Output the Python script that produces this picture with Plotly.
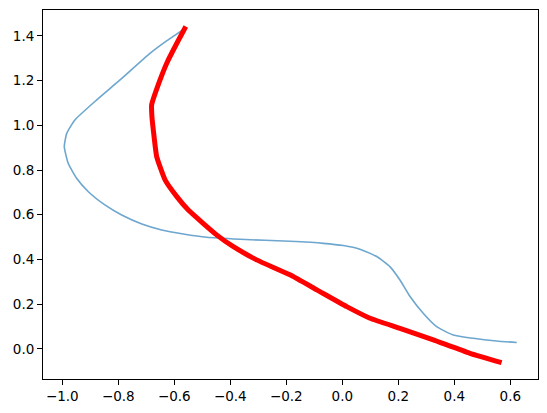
import plotly.graph_objects as go

# Blue trajectory
blue_x = [-0.562, -0.625, -0.687, -0.794, -0.877, -0.955, -0.984, -0.993, -0.979, -0.949,
          -0.907, -0.848, -0.788, -0.716, -0.645, -0.568, -0.484, -0.365, -0.187, -0.068,
          0.004, 0.063, 0.123, 0.170, 0.206, 0.242, 0.289, 0.337, 0.396, 0.468, 0.551, 0.623]
blue_y = [1.434, 1.380, 1.322, 1.203, 1.114, 1.024, 0.965, 0.905, 0.830, 0.763,
          0.703, 0.644, 0.599, 0.559, 0.532, 0.514, 0.499, 0.490, 0.481, 0.472,
          0.462, 0.446, 0.413, 0.368, 0.308, 0.234, 0.159, 0.099, 0.062, 0.047, 0.035, 0.028]

# Red trajectory
red_x = [-0.559, -0.591, -0.627, -0.651, -0.681, -0.680, -0.675, -0.663, -0.633, -0.591,
         -0.550, -0.449, -0.389, -0.306, -0.187, -0.091, 0.016, 0.099, 0.206, 0.325,
         0.456, 0.569]
red_y = [1.442, 1.367, 1.278, 1.203, 1.091, 1.040, 0.979, 0.860, 0.756, 0.681,
         0.621, 0.510, 0.457, 0.398, 0.331, 0.264, 0.189, 0.137, 0.092, 0.040,
         -0.020, -0.062]

x_ticks = [-1.0, -0.8, -0.6, -0.4, -0.2, 0.0, 0.2, 0.4, 0.6]
y_ticks = [0.0, 0.2, 0.4, 0.6, 0.8, 1.0, 1.2, 1.4]

fig = go.Figure()
fig.add_trace(go.Scatter(x=blue_x, y=blue_y, mode="lines",
                         line=dict(color="rgba(31,119,180,0.65)", width=1.6, shape="spline", smoothing=0.5),
                         showlegend=False, hoverinfo="skip"))
fig.add_trace(go.Scatter(x=red_x, y=red_y, mode="lines",
                         line=dict(color="red", width=5, shape="spline", smoothing=0.4),
                         showlegend=False, hoverinfo="skip"))

axis_common = dict(showgrid=False, zeroline=False, showline=True, linecolor="black",
                   linewidth=1, mirror=True, ticks="outside", ticklen=5, tickwidth=1,
                   tickcolor="black", tickfont=dict(family="DejaVu Sans", size=13.5, color="black"))
fig.update_xaxes(range=[-1.069, 0.699], tickvals=x_ticks, tickformat=".1f", **axis_common)
fig.update_yaxes(range=[-0.135, 1.516], tickvals=y_ticks, tickformat=".1f", **axis_common)

fig.update_layout(width=547, height=413, plot_bgcolor="white", paper_bgcolor="white",
                  margin=dict(l=43, r=9, t=10, b=34))

fig.write_html("out.html", config={"displayModeBar": False},
               post_script="document.body.style.margin='0';document.body.style.padding='0';")
